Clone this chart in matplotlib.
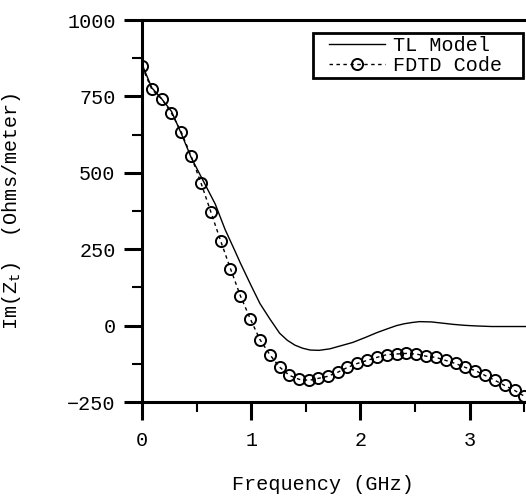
import matplotlib
matplotlib.use("Agg")
import matplotlib.pyplot as plt
from matplotlib.ticker import MultipleLocator
from matplotlib.patches import Rectangle

plt.rcParams['font.family'] = ['Liberation Mono', 'DejaVu Sans']
plt.rcParams['mathtext.fontset'] = 'custom'
plt.rcParams['mathtext.rm'] = 'Liberation Mono'
plt.rcParams['mathtext.it'] = 'Liberation Mono'
plt.rcParams['mathtext.default'] = 'rm'

# TL Model (solid line)
tl_freq = [0.0, 0.09, 0.18, 0.27, 0.36, 0.45, 0.56, 0.67, 0.76, 0.85, 0.9, 1.0,
           1.08, 1.17, 1.26, 1.33, 1.40, 1.47, 1.54, 1.62, 1.72, 1.8, 1.93, 2.05,
           2.15, 2.25, 2.33, 2.4, 2.47, 2.54, 2.65, 2.75, 2.85, 2.95, 3.05, 3.2,
           3.35, 3.52]
tl_im = [855, 778, 742, 701, 628, 550, 474, 398, 315, 245, 205, 130,
         72, 22, -25, -48, -64, -74, -80, -81, -76, -68, -55, -38,
         -23, -10, 0, 6, 10, 13, 12, 8, 4, 1, -1, -3,
         -3, -3]

# FDTD Code (circles, dashed)
fdtd_freq = [0.00, 0.09, 0.18, 0.27, 0.36, 0.45, 0.54, 0.63, 0.72, 0.81,
             0.90, 0.99, 1.08, 1.17, 1.26, 1.35, 1.44, 1.53, 1.61, 1.70,
             1.79, 1.88, 1.97, 2.06, 2.15, 2.24, 2.33, 2.42, 2.51, 2.60,
             2.69, 2.78, 2.87, 2.96, 3.05, 3.14, 3.23, 3.32, 3.41, 3.50]
fdtd_im = [848, 773, 742, 695, 633, 554, 467, 372, 277, 186,
           98, 23, -46, -95, -136, -163, -176, -179, -173, -166,
           -153, -137, -124, -114, -104, -95, -93, -91, -93, -100,
           -104, -114, -124, -137, -147, -163, -179, -196, -212, -231]

x_ticks = [0, 1, 2, 3]
y_ticks = [-250, 0, 250, 500, 750, 1000]

fig = plt.figure(figsize=(5.26, 5.0), dpi=100)
ax = fig.add_axes([142/526, 98/500, 1 - 142/526, 382/500])

ax.plot(tl_freq, tl_im, color='black', lw=1.0, label='TL Model')
ax.plot(fdtd_freq, fdtd_im, color='black', lw=1.0, ls=(0, (2.5, 2.5)),
        marker='o', ms=8, mfc='none', mec='black', mew=1.4,
        label='FDTD Code')

ax.set_xlim(0, 3.515)
ax.set_ylim(-250, 1000)
ax.set_xticks(x_ticks)
ax.set_yticks(y_ticks)
ax.xaxis.set_minor_locator(MultipleLocator(0.5))
ax.yaxis.set_minor_locator(MultipleLocator(125))

for s in ['left', 'bottom', 'top']:
    ax.spines[s].set_linewidth(2.2)
ax.spines['right'].set_visible(False)

ax.tick_params(which='major', direction='out', length=13, width=2.2,
               labelsize=14.5, pad=6)
ax.tick_params(which='minor', direction='out', length=7, width=1.5)
ax.tick_params(axis='x', which='major', pad=8)

ax.set_xlabel('Frequency (GHz)', fontsize=14.5)
ax.set_ylabel('Im(Z$_t$)  (Ohms/meter)', fontsize=14.5)
ax.xaxis.set_label_coords(0.471, -0.19)
ax.yaxis.set_label_coords(-0.31, 0.5)

# legend frame (drawn separately to match the wide box of the original)
frame = Rectangle(((313 - 142) / 384, (402 - 78) / 382),
                  (523 - 313) / 384, (78 - 33) / 382,
                  transform=ax.transAxes, facecolor='white',
                  edgecolor='black', lw=2.0, zorder=4)
ax.add_patch(frame)
leg = ax.legend(loc='upper left', bbox_to_anchor=((326 - 142) / 384, (402 - 33) / 382),
                borderaxespad=0, fontsize=14.5, handlelength=2.8,
                handletextpad=0.4, borderpad=0.15, labelspacing=0.05,
                frameon=False)
leg.set_zorder(5)

fig.savefig('out.png', dpi=100)
